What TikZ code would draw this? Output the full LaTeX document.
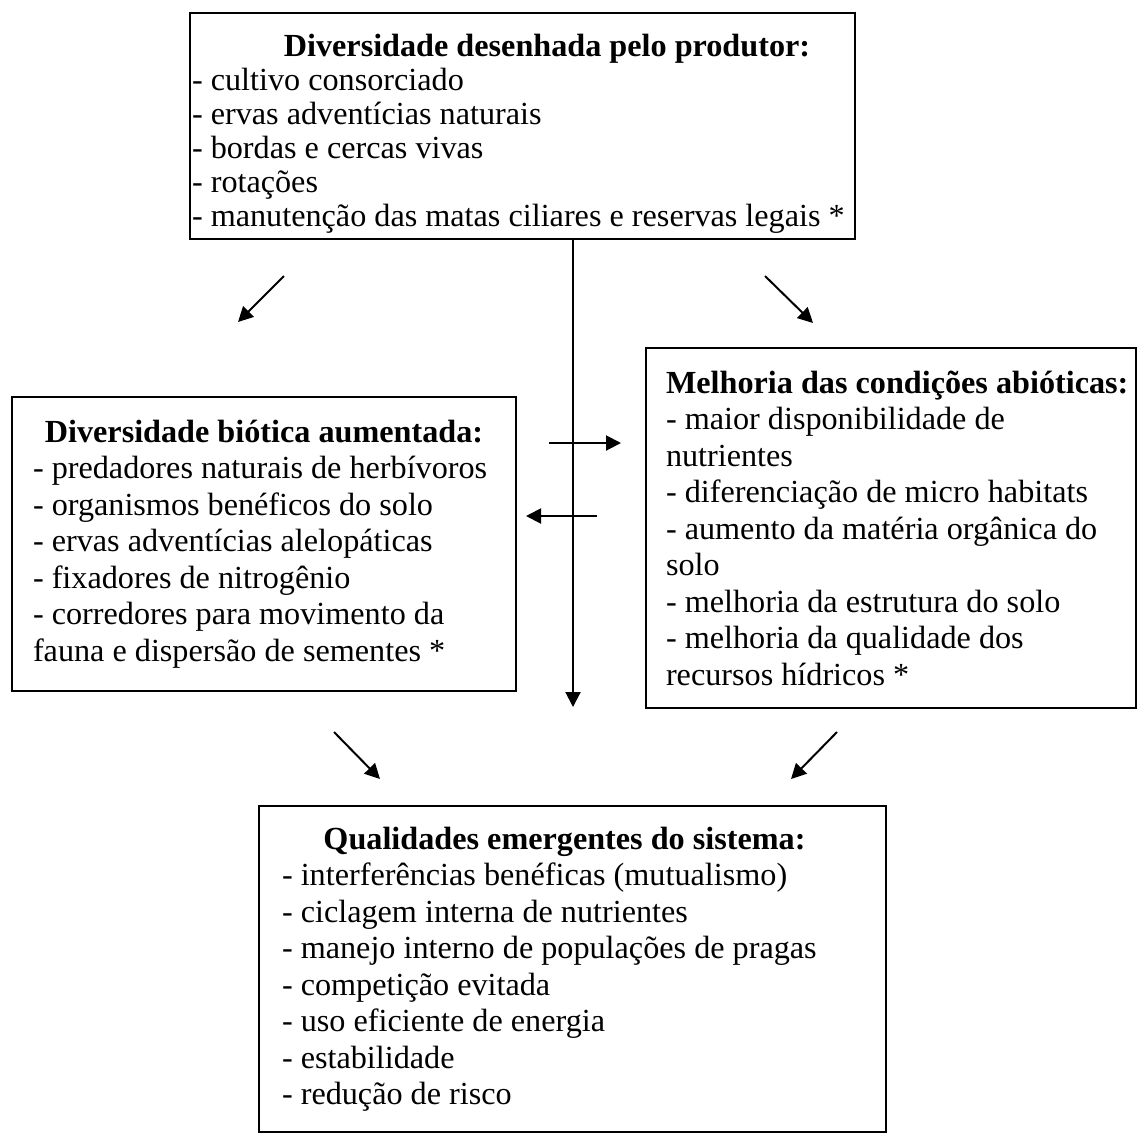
\documentclass[tikz,border=0pt]{standalone}
\usepackage{fontspec}
\setmainfont{Liberation Serif}
\usetikzlibrary{arrows.meta}
\newcommand{\boxtitle}[2][0pt]{{\centering\bfseries\hspace*{#1}\mbox{#2}\par}}
\newcommand{\padbelow}[1]{\par\vspace*{#1}}
\tikzset{
  panel/.style={draw, line width=1pt, anchor=north west, align=flush left, inner ysep=0pt,
    font=\fontsize{16.1}{18.25}\selectfont},
  flow/.style={-{Triangle[length=7.5pt,width=7.5pt]}, line width=1pt}
}
\begin{document}
\begin{tikzpicture}[x=0.5pt, y=-0.5pt]
\useasboundingbox (0,0) rectangle (1138,1136);
\node[panel, font=\fontsize{16.1}{17}\selectfont, inner xsep=1pt, text width=330.5pt, minimum width=332.5pt, minimum height=113pt] (producer) at (189,12) {\boxtitle[24.5pt]{\rule{0pt}{19pt}Diversidade desenhada pelo produtor:}- cultivo consorciado\\- ervas adventícias naturais\\- bordas e cercas vivas\\- rotações\\\mbox{- manutenção das matas ciliares e reservas legais *}};
\node[panel, inner xsep=10.5pt, text width=231pt, minimum width=252pt, minimum height=147pt] (biotic) at (11,396) {\boxtitle{Diversidade biótica aumentada:}- predadores naturais de herbívoros\\- organismos benéficos do solo\\- ervas adventícias alelopáticas\\- fixadores de nitrogênio\\- corredores para movimento da\\fauna e dispersão de sementes *\padbelow{6pt}};
\node[panel, inner xsep=10pt, text width=225pt, minimum width=245pt, minimum height=180pt] (abiotic) at (645,347) {\boxtitle{Melhoria das condições abióticas:}- maior disponibilidade de\\nutrientes\\- diferenciação de micro habitats\\- aumento da matéria orgânica do\\solo\\- melhoria da estrutura do solo\\- melhoria da qualidade dos\\recursos hídricos *\padbelow{4pt}};
\node[panel, inner xsep=11.5pt, text width=290.5pt, minimum width=313.5pt, minimum height=163pt] (emergent) at (258,805) {\boxtitle[-8pt]{Qualidades emergentes do sistema:}- interferências benéficas (mutualismo)\\- ciclagem interna de nutrientes\\- manejo interno de populações de pragas\\- competição evitada\\- uso eficiente de energia\\- estabilidade\\- redução de risco};
\coordinate (tl0) at (284,276);
\coordinate (tl1) at (238,322);
\coordinate (tr0) at (765,276);
\coordinate (tr1) at (813,323);
\coordinate (vend) at (573,707);
\coordinate (hr0) at (549,443);
\coordinate (hr1) at (621,443);
\coordinate (hl0) at (597,516);
\coordinate (hl1) at (526,516);
\coordinate (bl0) at (334,732);
\coordinate (bl1) at (380,779);
\coordinate (br0) at (837,732);
\coordinate (br1) at (791,779);
\draw[flow] (tl0) -- (tl1);
\draw[flow] (tr0) -- (tr1);
\draw[flow] (producer.south -| vend) -- (vend);
\draw[flow] (hr0) -- (hr1);
\draw[flow] (hl0) -- (hl1);
\draw[flow] (bl0) -- (bl1);
\draw[flow] (br0) -- (br1);
\end{tikzpicture}
\end{document}
